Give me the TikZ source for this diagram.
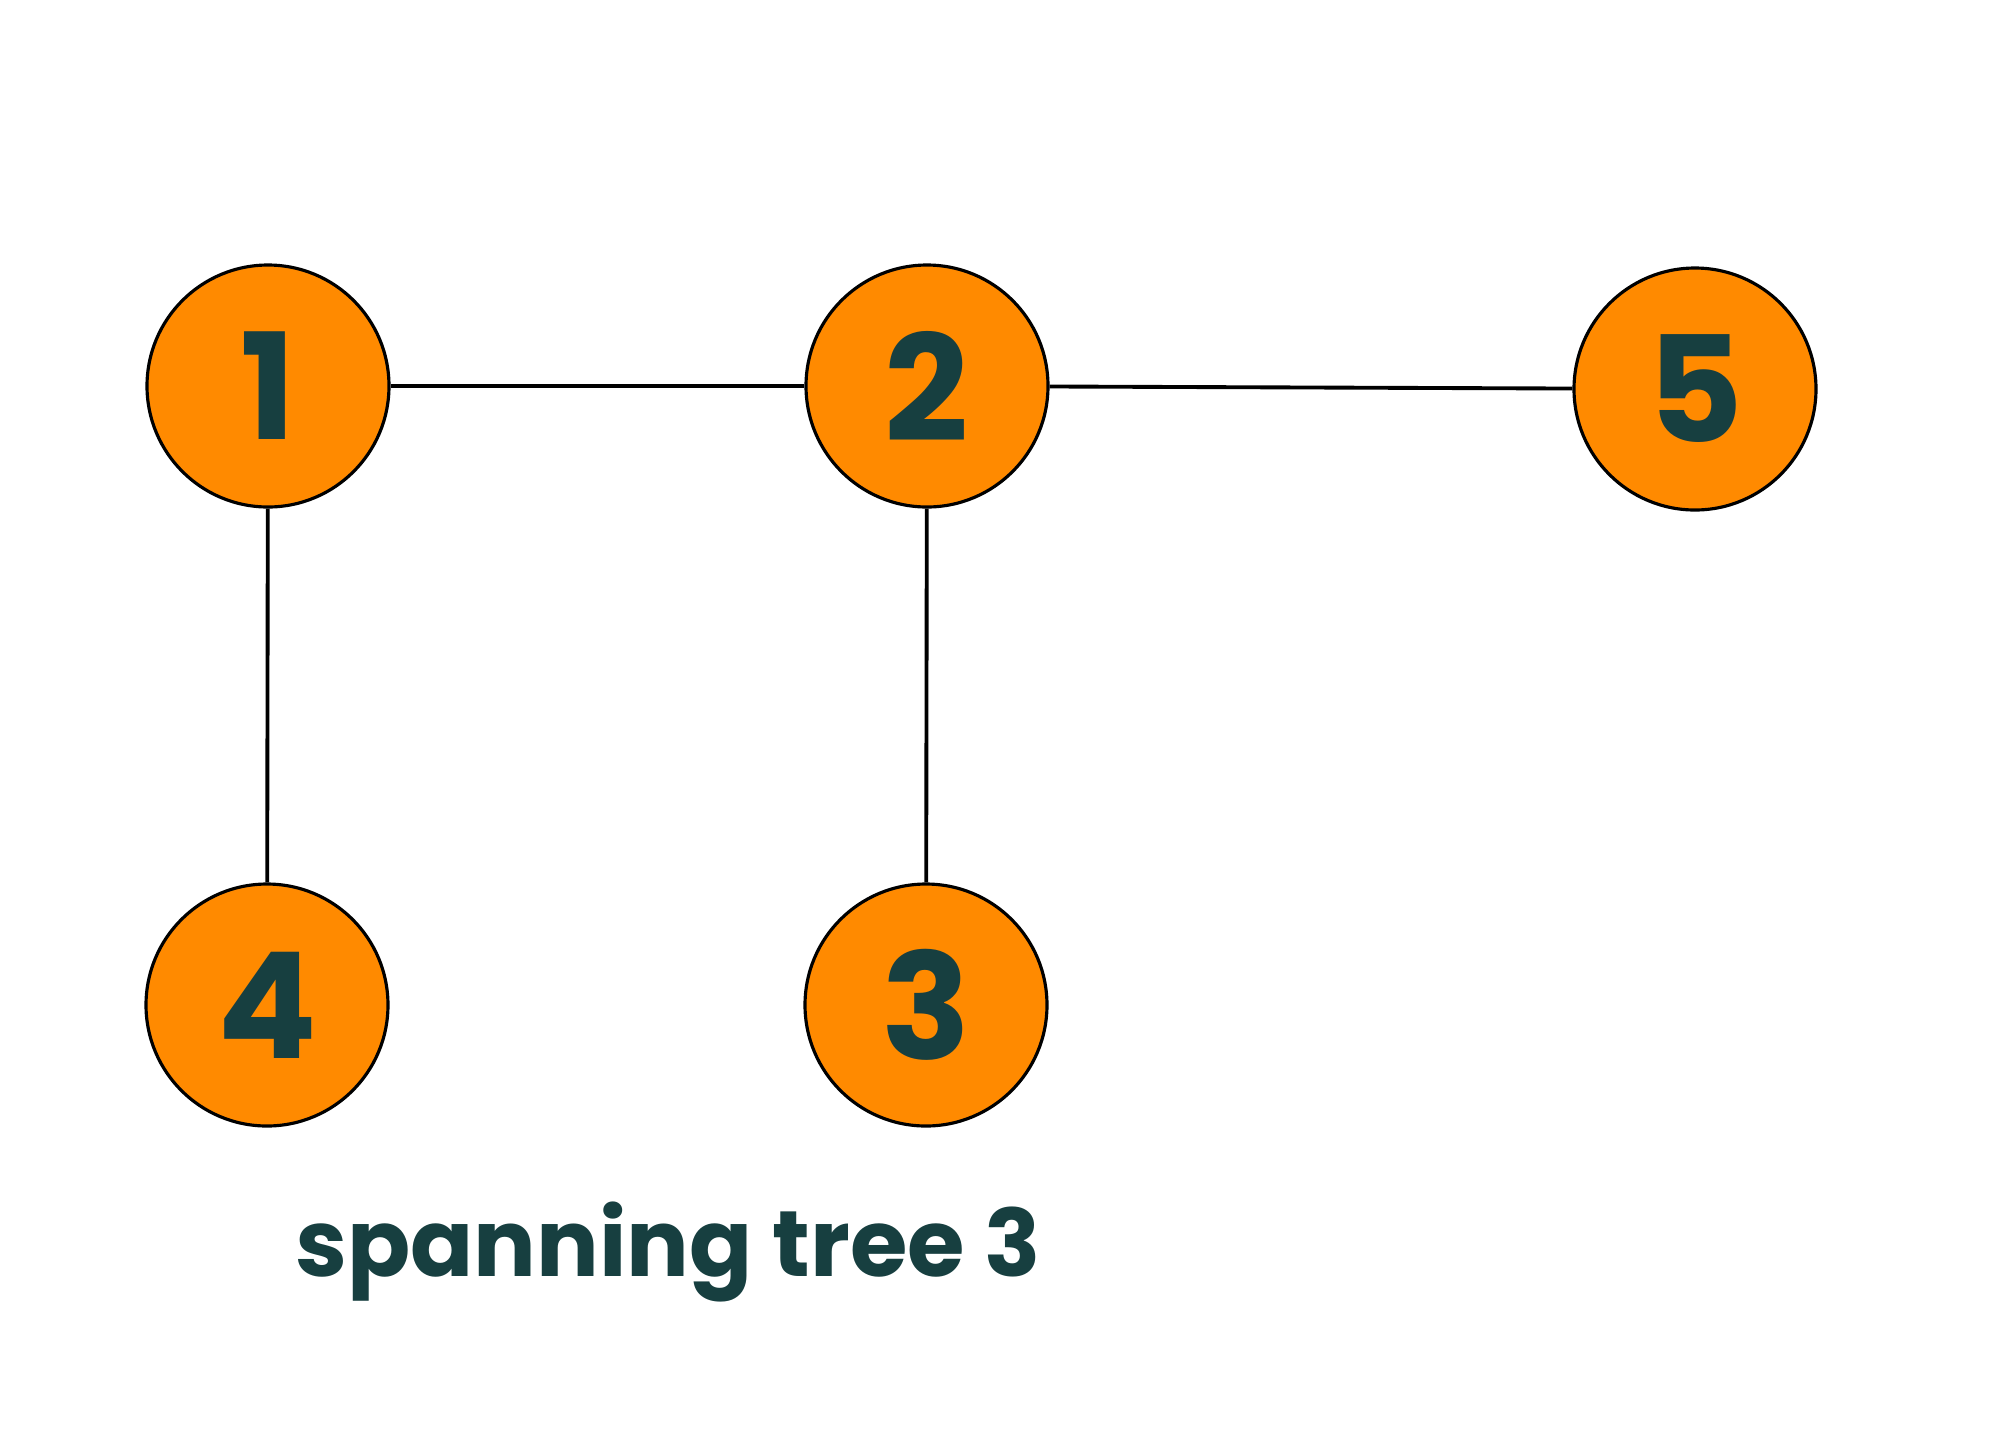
\documentclass[tikz,border=0pt]{standalone}
\usepackage{fontspec}
\usepackage{tikz}
\newfontfamily\treefont{Poppins}[BoldFont={* Bold}]
\definecolor{nodeorange}{HTML}{FF8A00}
\definecolor{darkteal}{HTML}{173F40}

\begin{document}
\begin{tikzpicture}
\tikzset{tree node/.style={ %
		circle,
		draw=black,
		line width=0.9pt,
		fill=nodeorange,
		minimum size=2.42cm,
		inner sep=0pt,
		text=darkteal,
		font=\treefont\bfseries\fontsize{42}{42}\selectfont %
	}
}
\useasboundingbox (0,0) rectangle (20,-14.28);
\node[tree node] (n1) at (2.68,-3.86) {1};
\node[tree node] (n2) at (9.27,-3.86) {2};
\node[tree node] (n5) at (16.95,-3.89) {5};
\node[tree node] (n4) at (2.67,-10.05) {4};
\node[tree node] (n3) at (9.26,-10.05) {3};
\draw[line width=1.1pt] (n1) -- (n2);
\draw[line width=1.1pt] (n2) -- (n5);
\draw[line width=1.1pt] (n1) -- (n4);
\draw[line width=1.1pt] (n2) -- (n3);
\node[anchor=base,text=darkteal,font=\treefont\bfseries\fontsize{26.5}{26.5}\selectfont] (caption) at (6.68,-12.76) {spanning tree 3};
\end{tikzpicture}
\end{document}
